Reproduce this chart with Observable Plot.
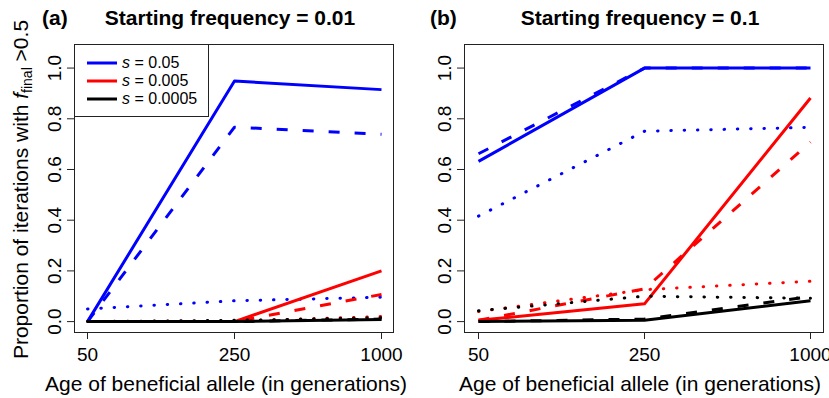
<!DOCTYPE html>
<html>
<head>
<meta charset="utf-8">
<script src="https://cdn.jsdelivr.net/npm/d3@7"></script>
<script src="https://cdn.jsdelivr.net/npm/@observablehq/plot@0.6"></script>
<style>
  html, body { margin: 0; padding: 0; background: #fff; }
  #wrap { position: relative; width: 829px; height: 398px; overflow: hidden; font-family: "Liberation Sans", Arial, Helvetica, sans-serif; color: #000; }
  .abs { position: absolute; white-space: nowrap; }
  .panel { position: absolute; top: 0; }
  .ttl { font-weight: bold; font-size: 21px; line-height: 21px; }
  .xlab { font-size: 21px; line-height: 21px; width: 420px; text-align: center; }
  .ylab { font-size: 21px; line-height: 21px; width: 420px; text-align: center; transform: rotate(-90deg); transform-origin: 50% 50%; }
  .ylab sub { font-size: 14px; vertical-align: -4px; line-height: 0; }
  #legend { position: absolute; left: 74px; top: 44px; width: 133px; height: 71px; border: 1px solid #222; background: #fff; }
  .lrow { position: absolute; left: 0; height: 18px; font-size: 16px; line-height: 18px; }
  .lrow svg { position: absolute; left: 12px; top: 0; }
  .lrow span { position: absolute; left: 47px; top: 0; white-space: nowrap; }
</style>
</head>
<body>
<div id="wrap"></div>
<script>
// ---- data ----
const ages = ["50", "250", "1000"];
const sValues = ["0.05", "0.005", "0.0005"];
const sColors = ["#0000ff", "#ff0000", "#000000"];
const lineTypes = ["solid", "dashed", "dotted"];
const yTicks = [0, 0.2, 0.4, 0.6, 0.8, 1.0];

// Panel (a): starting frequency = 0.01 ; values at ages 50, 250, 1000
const a_s005_solid  = [0.000, 0.949, 0.915];
const a_s005_dashed = [0.000, 0.767, 0.739];
const a_s005_dotted = [0.050, 0.082, 0.096];
const a_s0005_solid  = [0.000, 0.000, 0.200];
const a_s0005_dashed = [0.000, 0.000, 0.107];
const a_s0005_dotted = [0.000, 0.002, 0.020];
const a_s00005_solid  = [0.000, 0.000, 0.008];
const a_s00005_dashed = [0.000, 0.000, 0.010];
const a_s00005_dotted = [0.000, 0.005, 0.015];

// Panel (b): starting frequency = 0.1
const b_s005_solid  = [0.632, 1.000, 1.000];
const b_s005_dashed = [0.662, 1.000, 1.000];
const b_s005_dotted = [0.416, 0.751, 0.766];
const b_s0005_solid  = [0.005, 0.070, 0.882];
const b_s0005_dashed = [0.005, 0.129, 0.708];
const b_s0005_dotted = [0.040, 0.126, 0.159];
const b_s00005_solid  = [0.000, 0.005, 0.082];
const b_s00005_dashed = [0.000, 0.010, 0.099];
const b_s00005_dotted = [0.043, 0.100, 0.092];

const panelA = [
  [a_s005_solid, a_s005_dashed, a_s005_dotted],
  [a_s0005_solid, a_s0005_dashed, a_s0005_dotted],
  [a_s00005_solid, a_s00005_dashed, a_s00005_dotted]
];
const panelB = [
  [b_s005_solid, b_s005_dashed, b_s005_dotted],
  [b_s0005_solid, b_s0005_dashed, b_s0005_dotted],
  [b_s00005_solid, b_s00005_dashed, b_s00005_dotted]
];

const dashStyles = {
  solid:  {strokeDasharray: null, strokeLinecap: "butt"},
  dashed: {strokeDasharray: "11,15", strokeLinecap: "butt"},
  dotted: {strokeDasharray: "0.5,12.8", strokeLinecap: "round"}
};

function rowsFor(series, si, ti) {
  return ages.map((age, i) => ({age, value: series[i], s: sValues[si], type: lineTypes[ti]}));
}

function makePanel(panel, width, marginLeft, marginRight) {
  const marks = [];
  panel.forEach((group, si) => {
    group.forEach((series, ti) => {
      const st = dashStyles[lineTypes[ti]];
      const opts = {x: "age", y: "value", stroke: "s", strokeWidth: 3, strokeLinejoin: "round", strokeLinecap: st.strokeLinecap};
      if (st.strokeDasharray) opts.strokeDasharray = st.strokeDasharray;
      marks.push(Plot.line(rowsFor(series, si, ti), opts));
    });
  });
  return Plot.plot({
    width, height: 398,
    marginLeft, marginRight, marginTop: 44, marginBottom: 66,
    style: {fontFamily: "'Liberation Sans', Arial, Helvetica, sans-serif", background: "transparent", overflow: "visible"},
    x: {type: "point", domain: ages, padding: 0.08},
    y: {domain: [-0.043, 1.093]},
    color: {domain: sValues, range: sColors},
    marks: [
      ...marks,
      Plot.frame({stroke: "#222", strokeWidth: 1}),
      Plot.axisY({ticks: yTicks, tickFormat: d3.format(".1f"), tickSize: 7, tickPadding: 7, tickRotate: -90,
                  fontSize: 19, label: null, stroke: "#222", color: "#000"}),
      Plot.axisX({tickSize: 7, tickPadding: 8, fontSize: 19, label: null, stroke: "#222", color: "#000"})
    ]
  });
}

const wrap = document.getElementById("wrap");
const pa = makePanel(panelA, 415, 74, 22);
pa.classList.add("panel"); pa.style.left = "0px";
wrap.appendChild(pa);
const pb = makePanel(panelB, 414, 49, 6);
pb.classList.add("panel"); pb.style.left = "415px";
wrap.appendChild(pb);

function addDiv(cls, html, left, top) {
  const d = document.createElement("div");
  d.className = "abs " + cls;
  d.innerHTML = html;
  d.style.left = left + "px";
  d.style.top = top + "px";
  wrap.appendChild(d);
  return d;
}
// titles
addDiv("ttl", "(a)", 42, 7);
addDiv("ttl", "(b)", 430, 7);
const t1 = addDiv("ttl", "Starting frequency = 0.01", 0, 7); t1.style.width = "460px"; t1.style.textAlign = "center"; t1.style.left = (230 - 230) + "px";
const t2 = addDiv("ttl", "Starting frequency = 0.1", 0, 7); t2.style.width = "460px"; t2.style.textAlign = "center"; t2.style.left = (640 - 230) + "px";
// x axis titles
addDiv("xlab", "Age of beneficial allele (in generations)", 226 - 210, 373);
addDiv("xlab", "Age of beneficial allele (in generations)", 640 - 210, 373);
// y axis title
addDiv("ylab", "Proportion of iterations with <i>f</i><sub>final</sub> &gt;0.5", 20 - 210, 189 - 10.5);

// legend
const legend = document.createElement("div");
legend.id = "legend";
const legendTops = [9, 27, 45];
sValues.forEach((s, i) => {
  const r = document.createElement("div");
  r.className = "lrow";
  r.style.top = legendTops[i] + "px";
  r.innerHTML = `<svg width="30" height="18"><line x1="0" x2="30" y1="9" y2="9" stroke="${sColors[i]}" stroke-width="3"/></svg><span><i>s</i> = ${s}</span>`;
  legend.appendChild(r);
});
wrap.appendChild(legend);
</script>
</body>
</html>
